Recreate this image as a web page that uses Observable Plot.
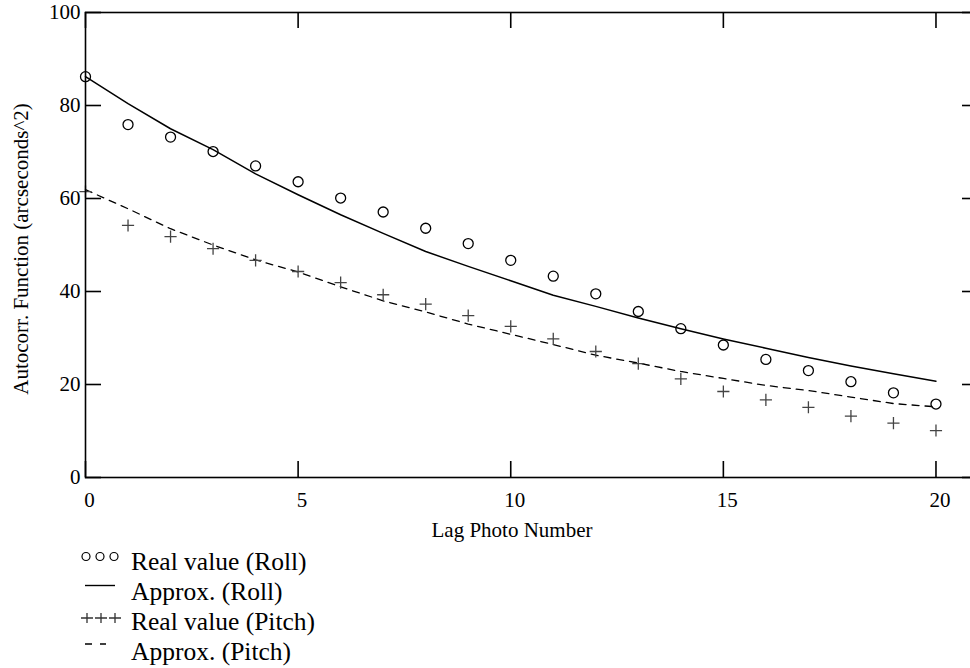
<!DOCTYPE html>
<html><head><meta charset="utf-8">
<script src="https://cdn.jsdelivr.net/npm/d3@7"></script>
<script src="https://cdn.jsdelivr.net/npm/@observablehq/plot@0.6"></script>
<style>
html,body{margin:0;padding:0;overflow:hidden;background:#fff;width:970px;height:668px}
#chart{width:980px;height:545px;overflow:hidden}
#chart svg{display:block;max-width:none !important;width:980px !important;height:545px !important}
#legend svg{display:block}
</style></head><body>
<div id="chart"></div>
<div id="legend"></div>
<script>
const lags = [0,1,2,3,4,5,6,7,8,9,10,11,12,13,14,15,16,17,18,19,20];
const rollReal = [86.2,75.9,73.2,70.1,67.0,63.6,60.1,57.1,53.6,50.3,46.7,43.3,39.5,35.7,32.0,28.5,25.4,23.0,20.6,18.2,15.8];
const rollApprox = [86.2,80.4,75.0,70.5,65.3,60.8,56.5,52.5,48.6,45.4,42.3,39.2,36.8,34.3,32.0,29.8,27.8,25.8,24.0,22.3,20.7];
const pitchReal = [61.5,54.2,51.8,49.2,46.7,44.3,41.9,39.3,37.3,34.8,32.5,29.8,27.1,24.5,21.2,18.5,16.7,15.1,13.2,11.7,10.1];
const pitchApprox = [61.9,57.8,53.5,50.0,46.8,44.2,41.0,38.0,35.6,33.0,30.8,28.6,26.3,24.6,22.8,21.3,19.8,18.7,17.3,15.9,15.2];
const xTicks = [0,5,10,15,20];
const yTicks = [0,20,40,60,80,100];
const xLabel = "Lag Photo Number";
const yLabel = "Autocorr. Function (arcseconds^2)";
const legendLabels = ["Real value (Roll)","Approx. (Roll)","Real value (Pitch)","Approx. (Pitch)"];
const legendKinds = ["circles","solid","pluses","dashed"];

const rows = lags.map((lag,i)=>({lag, rollReal: rollReal[i], rollApprox: rollApprox[i], pitchReal: pitchReal[i], pitchApprox: pitchApprox[i]}));

const W = 980, H = 545, mL = 85, mR = 2, mT = 12, mB = 68;
const fw = W - mL - mR;
const fh = H - mT - mB;
const T = 16;
const font = "'Liberation Serif','Times New Roman',serif";

const plot = Plot.plot({
  width: W, height: H, marginLeft: mL, marginRight: mR, marginTop: mT, marginBottom: mB,
  style: {fontFamily: font, background: "white", color: "black"},
  x: {domain: [0, 21], label: null},
  y: {domain: [0, 100], label: null},
  marks: [
    Plot.line(rows, {x:"lag", y:"rollApprox", stroke:"black", strokeWidth:1.5}),
    Plot.line(rows, {x:"lag", y:"pitchApprox", stroke:"black", strokeWidth:1.3, strokeDasharray:"7,6"}),
    Plot.dot(rows, {x:"lag", y:"rollReal", r:5, stroke:"black", strokeWidth:1.3, fill:"none"}),
    Plot.dot(rows, {x:"lag", y:"pitchReal", symbol:"plus", r:4, stroke:"#444", strokeWidth:1.3}),
    Plot.tickY(yTicks, {y: d=>d, insetRight: fw - T, strokeWidth: 1.6, stroke:"black"}),
    Plot.tickY(yTicks, {y: d=>d, insetLeft: fw - T, strokeWidth: 1.6, stroke:"black"}),
    Plot.tickX(xTicks, {x: d=>d, insetTop: fh - T, strokeWidth: 1.6, stroke:"black"}),
    Plot.tickX(xTicks, {x: d=>d, insetBottom: fh - T, strokeWidth: 1.6, stroke:"black"}),
    Plot.frame({stroke:"black", strokeWidth:1.6}),
    Plot.axisY(yTicks, {tickSize:0, tickPadding:5, fontSize:21, label:null}),
    Plot.axisX(xTicks, {tickSize:0, tickPadding:15, fontSize:21, dx:4, label:null}),
    Plot.text([yLabel], {frameAnchor:"left", textAnchor:"middle", rotate:-90, dx:-58, dy:4, lineAnchor:"bottom", fontSize:21}),
    Plot.text([xLabel], {frameAnchor:"bottom", textAnchor:"middle", dx:-20, dy:59, lineAnchor:"bottom", fontSize:21})
  ]
});
document.getElementById("chart").appendChild(plot);

// legend below the chart
const lg = d3.select("#legend").append("svg").attr("width", 970).attr("height", 123)
  .style("font-family", font);
legendLabels.forEach((lab, i) => {
  const base = 25 + i * 30;
  const kind = legendKinds[i];
  const g = lg.append("g");
  if (kind === "circles") {
    [86, 100, 114].forEach(cx => g.append("circle").attr("cx", cx).attr("cy", base - 13.5).attr("r", 4)
      .attr("fill", "none").attr("stroke", "black").attr("stroke-width", 1.2));
  } else if (kind === "solid") {
    g.append("line").attr("x1", 85).attr("x2", 115).attr("y1", base - 14.5).attr("y2", base - 14.5)
      .attr("stroke", "black").attr("stroke-width", 1.4);
  } else if (kind === "pluses") {
    [87, 101, 115].forEach(cx => {
      g.append("path").attr("d", `M${cx-6},${base-12}H${cx+6}M${cx},${base-17}V${base-7}`)
        .attr("stroke", "#333").attr("stroke-width", 1.3).attr("fill", "none");
    });
  } else {
    g.append("line").attr("x1", 85).attr("x2", 106).attr("y1", base - 16).attr("y2", base - 16)
      .attr("stroke", "black").attr("stroke-width", 1.3).attr("stroke-dasharray", "7,8");
  }
  g.append("text").attr("x", 131).attr("y", base).attr("font-size", 25.5).attr("fill", "black").text(lab);
});
</script>
</body></html>
